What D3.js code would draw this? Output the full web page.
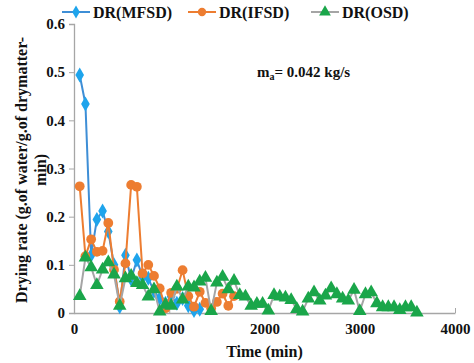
<!DOCTYPE html>
<html>
<head>
<meta charset="utf-8">
<script src="https://cdn.jsdelivr.net/npm/d3@7"></script>
<style>
  body { margin: 0; background: #fff; }
  svg text { font-family: "Liberation Serif", "Times New Roman", serif; font-weight: bold; fill: #111; }
</style>
</head>
<body>
<div id="wrapper"></div>
<script>
// 1. Data (time in min, drying rate)
const mfsdTime = [60,120,180,240,300,360,420,480,540,600,660,720,780,840,900,960,1020,1080,1140,1200,1260,1320];
const mfsdRate = [0.494,0.434,0.12,0.194,0.212,0.169,0.10,0.013,0.12,0.07,0.11,0.075,0.072,0.045,0.03,0.02,0.034,0.02,0.03,0.015,0.005,0.008];

const ifsdTime = [60,120,180,240,300,360,420,480,540,600,660,720,780,840,900,960,1020,1080,1140,1200,1260,1320,1380,1440,1500,1560,1620,1680];
const ifsdRate = [0.263,0.118,0.153,0.127,0.129,0.187,0.09,0.024,0.103,0.266,0.262,0.082,0.1,0.077,0.051,0.01,0.042,0.05,0.089,0.035,0.013,0.044,0.021,0.01,0.023,0.04,0.015,0.035];

const osdTime = [60,120,180,240,300,360,420,480,540,600,660,720,780,840,900,960,1020,1080,1140,1200,
  1260,1320,1380,1440,1500,1560,1620,1680,1740,1800,1860,1920,1980,2040,2100,2160,2220,2280,2340,2400,
  2460,2520,2580,2640,2700,2760,2820,2880,2940,3000,3060,3120,3180,3240,3300,3360,3420,3480,3540,3600];
const osdRate = [0.035,0.115,0.095,0.058,0.09,0.105,0.08,0.015,0.072,0.077,0.062,0.058,0.034,0.049,0.003,0.017,0.015,0.055,0.028,0.055,
  0.053,0.065,0.073,0.004,0.063,0.075,0.049,0.067,0.037,0.034,0.015,0.019,0.019,0.005,0.037,0.034,0.032,0.027,0.008,0.003,
  0.030,0.043,0.026,0.036,0.051,0.039,0.030,0.026,0.048,0.004,0.039,0.043,0.020,0.012,0.012,0.012,0.006,0.012,0.012,0.001];

const xTicks = [0, 1000, 2000, 3000, 4000];
const yTicks = [0, 0.1, 0.2, 0.3, 0.4, 0.5, 0.6];

const seriesNames = ["DR(MFSD)", "DR(IFSD)", "DR(OSD)"];

// 2. Dimensions
const dimensions = {
  width: 474,
  height: 363,
  margin: { top: 24, right: 19, bottom: 50, left: 74 }
};
dimensions.boundedWidth = dimensions.width - dimensions.margin.left - dimensions.margin.right;
dimensions.boundedHeight = dimensions.height - dimensions.margin.top - dimensions.margin.bottom;

// 3. Canvas
const wrapper = d3.select("#wrapper")
  .append("svg")
  .attr("width", dimensions.width)
  .attr("height", dimensions.height);

const bounds = wrapper.append("g")
  .attr("transform", `translate(${dimensions.margin.left},${dimensions.margin.top})`);

// 4. Scales
const xScale = d3.scaleLinear().domain([0, 4000]).range([0, dimensions.boundedWidth]);
const yScale = d3.scaleLinear().domain([0, 0.6]).range([dimensions.boundedHeight, 0]);

// 5. Axes
const axisColor = "#a6a6a6";
const xAxis = bounds.append("g")
  .attr("transform", `translate(0,${dimensions.boundedHeight})`)
  .call(d3.axisBottom(xScale).tickValues(xTicks).tickSize(0).tickPadding(10).tickFormat(d3.format("d")));
xAxis.selectAll(".tick")
  .append("line").attr("y1", -5).attr("y2", 0).attr("stroke", axisColor);

const yAxis = bounds.append("g")
  .call(d3.axisLeft(yScale).tickValues(yTicks).tickSize(5).tickPadding(4)
    .tickFormat(d => d === 0 ? "0" : d3.format(".1f")(d)));

[xAxis, yAxis].forEach(ax => {
  ax.select(".domain").attr("stroke", axisColor).attr("stroke-width", 1.3);
  ax.selectAll(".tick line").attr("stroke", axisColor);
  ax.selectAll(".tick text").style("font-size", "15px").attr("fill", "#111");
});

// 6. Series
const colors = {
  mfsd: { line: "#3e8ed6", marker: "#1ea4ec" },
  ifsd: { line: "#ed7d31", marker: "#ed7d31" },
  osd: { line: "#a5a5a5", marker: "#1aa64a" }
};

const lineGen = d3.line().x(d => xScale(d[0])).y(d => yScale(d[1]));
const zip = (a, b) => a.map((v, i) => [v, b[i]]);

const mfsdData = zip(mfsdTime, mfsdRate);
const ifsdData = zip(ifsdTime, ifsdRate);
const osdData = zip(osdTime, osdRate);

function drawSeries(data, col, symbolType, size) {
  const g = bounds.append("g");
  g.append("path")
    .attr("d", lineGen(data))
    .attr("fill", "none")
    .attr("stroke", col.line)
    .attr("stroke-width", 2);
  g.selectAll("path.marker")
    .data(data)
    .join("path")
    .attr("class", "marker")
    .attr("d", d3.symbol().type(symbolType).size(size))
    .attr("transform", d => `translate(${xScale(d[0])},${yScale(d[1])})`)
    .attr("fill", col.marker);
}

drawSeries(mfsdData, colors.mfsd, d3.symbolDiamond, 65);
drawSeries(ifsdData, colors.ifsd, d3.symbolCircle, 75);
drawSeries(osdData, colors.osd, d3.symbolTriangle, 80);

// 7. Labels
wrapper.append("text")
  .attr("x", dimensions.margin.left + dimensions.boundedWidth / 2)
  .attr("y", 357)
  .attr("text-anchor", "middle")
  .style("font-size", "16px")
  .text("Time (min)");

const yTitle = wrapper.append("text")
  .attr("transform", "translate(27,170) rotate(-90)")
  .attr("text-anchor", "middle")
  .style("font-size", "16px");
yTitle.append("tspan").attr("x", 0).attr("dy", 0).text("Drying rate (g.of water/g.of drymatter-");
yTitle.append("tspan").attr("x", 0).attr("dy", 19).text("min)");

const note = wrapper.append("text")
  .attr("x", 257)
  .attr("y", 77)
  .style("font-size", "15px");
note.append("tspan").text("m");
note.append("tspan").attr("dy", 3).style("font-size", "10px").text("a");
note.append("tspan").attr("dy", -3).text("= 0.042 kg/s");

// legend
const legendItems = [
  { name: seriesNames[0], col: colors.mfsd, type: d3.symbolDiamond, size: 50, x: 62 },
  { name: seriesNames[1], col: colors.ifsd, type: d3.symbolCircle, size: 55, x: 188 },
  { name: seriesNames[2], col: colors.osd, type: d3.symbolTriangle, size: 60, x: 311 }
];
const legend = wrapper.append("g").attr("transform", "translate(0,12)");
const legendItem = legend.selectAll("g")
  .data(legendItems)
  .join("g")
  .attr("transform", d => `translate(${d.x},0)`);
legendItem.append("line")
  .attr("x1", 0).attr("x2", 28)
  .attr("stroke", d => d.col.line)
  .attr("stroke-width", 2);
legendItem.append("path")
  .attr("d", d => d3.symbol().type(d.type).size(d.size)())
  .attr("transform", "translate(14,0)")
  .attr("fill", d => d.col.marker);
legendItem.append("text")
  .attr("x", 31)
  .attr("y", 6)
  .style("font-size", "16px")
  .text(d => d.name);
</script>
</body>
</html>
